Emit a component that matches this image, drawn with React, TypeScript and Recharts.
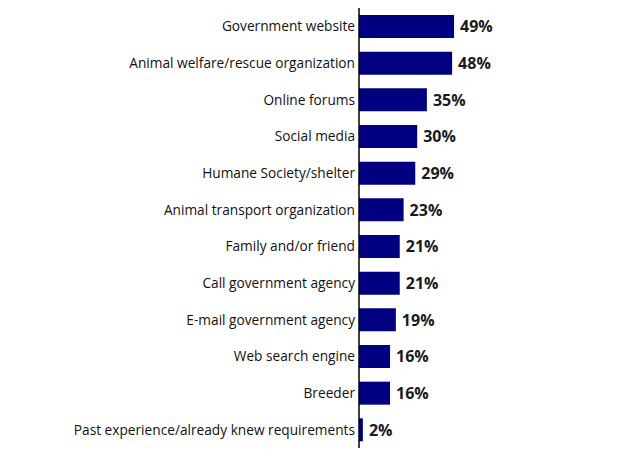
import { BarChart, Bar, XAxis, YAxis, LabelList } from 'recharts';

const categories = [
  'Government website',
  'Animal welfare/rescue organization',
  'Online forums',
  'Social media',
  'Humane Society/shelter',
  'Animal transport organization',
  'Family and/or friend',
  'Call government agency',
  'E-mail government agency',
  'Web search engine',
  'Breeder',
  'Past experience/already knew requirements',
];

const shares = [49, 48, 35, 30, 29, 23, 21, 21, 19, 16, 16, 2];

const data = categories.map((name, i) => ({ name, value: shares[i] }));

export default function App() {
  return (
    <div style={{ margin: -8, fontFamily: '"Open Sans", sans-serif' }}>
      <BarChart
        width={624}
        height={468}
        data={data}
        layout="vertical"
        margin={{ top: 8, right: 71, bottom: 20, left: 0 }}
      >
        <XAxis type="number" domain={[0, 100]} hide />
        <YAxis
          type="category"
          dataKey="name"
          width={359}
          tickLine={false}
          tickSize={0}
          axisLine={{ stroke: '#000', strokeWidth: 1.5 }}
          tickMargin={4}
          interval={0}
          tick={{ fill: '#111', fontSize: 13.7 }}
        />
        <Bar dataKey="value" fill="#000080" barSize={23} isAnimationActive={false}>
          <LabelList
            dataKey="value"
            position="right"
            offset={6}
            formatter={(v: number) => `${v}%`}
            style={{ fill: '#1a1a1a', fontSize: 16, fontWeight: 700 }}
          />
        </Bar>
      </BarChart>
    </div>
  );
}
